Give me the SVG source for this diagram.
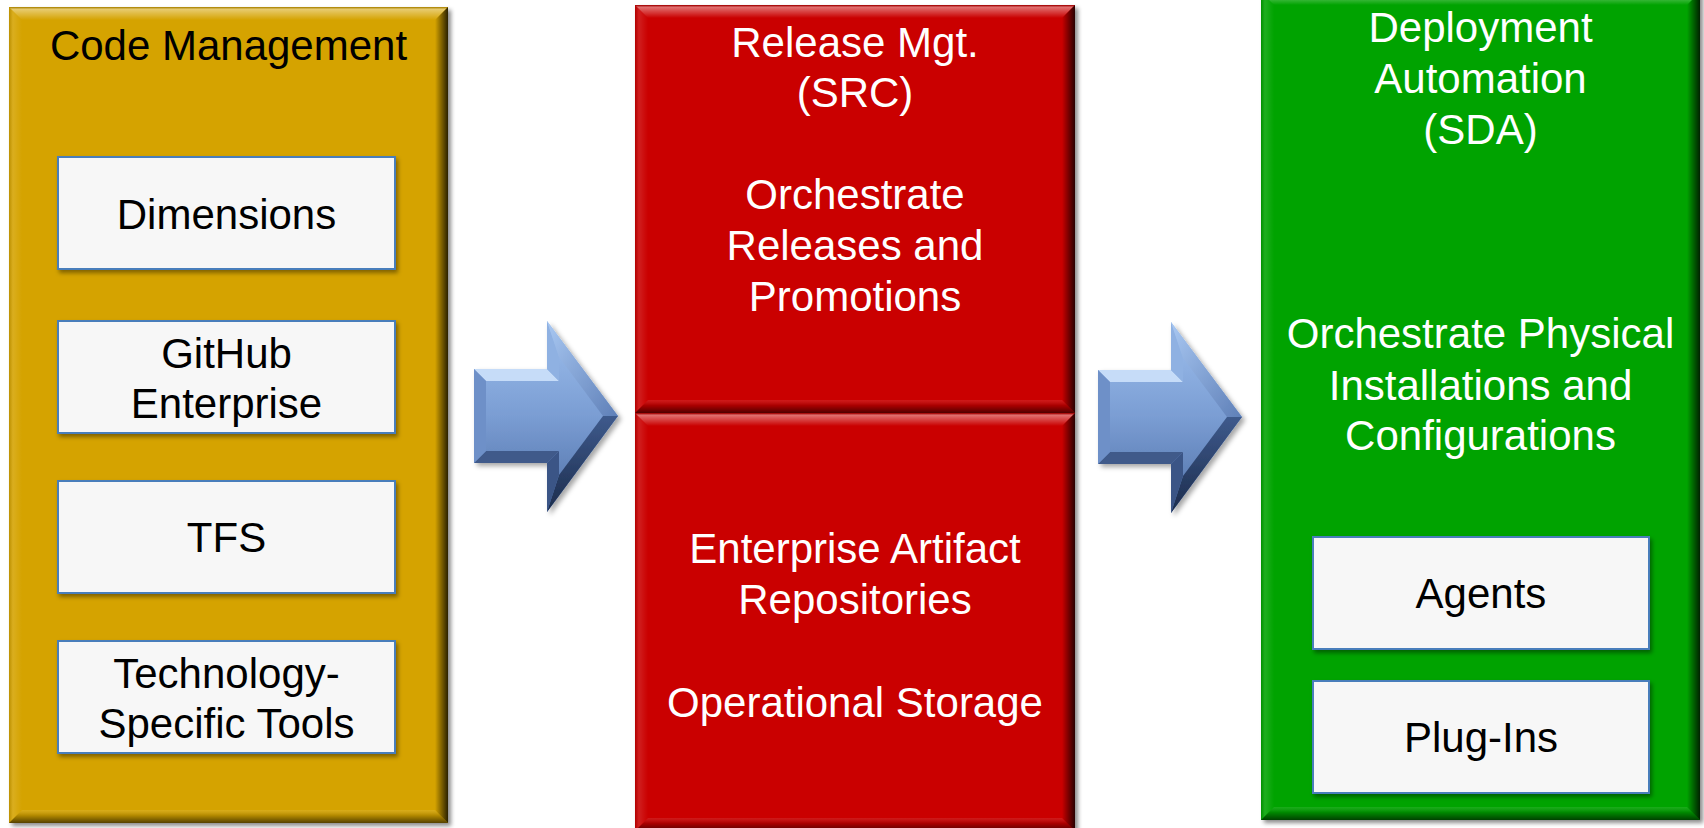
<svg xmlns="http://www.w3.org/2000/svg" width="1704" height="828" viewBox="0 0 1704 828">
<defs>
<style>
.t{font-family:"Liberation Sans",Arial,sans-serif;font-size:42px;text-anchor:middle}
.dk{fill:#000}
.wt{fill:#fff}
.inner{fill:#F7F7F7;stroke:#4A7EBB;stroke-width:2}
.gold{fill:#D5A305}
.red{fill:#CA0606}
.green{fill:#05A305}
.bt{fill:url(#gTop)}
.bl{fill:url(#gLeft)}
.br{fill:url(#gRight)}
.bb{fill:url(#gBottom)}
</style>
<linearGradient id="gTop" x1="0" y1="0" x2="0" y2="1">
<stop offset="0" stop-color="#000" stop-opacity="0.15"/>
<stop offset="0.15" stop-color="#fff" stop-opacity="0.45"/>
<stop offset="1" stop-color="#fff" stop-opacity="0"/>
</linearGradient>
<linearGradient id="gLeft" x1="0" y1="0" x2="1" y2="0">
<stop offset="0" stop-color="#000" stop-opacity="0.12"/>
<stop offset="0.3" stop-color="#fff" stop-opacity="0.12"/>
<stop offset="1" stop-color="#fff" stop-opacity="0"/>
</linearGradient>
<linearGradient id="gRight" x1="0" y1="0" x2="1" y2="0">
<stop offset="0" stop-color="#000" stop-opacity="0"/>
<stop offset="1" stop-color="#000" stop-opacity="0.8"/>
</linearGradient>
<linearGradient id="gBottom" x1="0" y1="0" x2="0" y2="1">
<stop offset="0" stop-color="#fff" stop-opacity="0.1"/>
<stop offset="0.4" stop-color="#000" stop-opacity="0.15"/>
<stop offset="1" stop-color="#000" stop-opacity="0.6"/>
</linearGradient>
<linearGradient id="gArrow" x1="0" y1="0" x2="0" y2="1">
<stop offset="0" stop-color="#9FC0EE"/>
<stop offset="0.5" stop-color="#7A9DD3"/>
<stop offset="1" stop-color="#4F6FA6"/>
</linearGradient>
<linearGradient id="gHeadUp" x1="0" y1="0" x2="1" y2="1">
<stop offset="0" stop-color="#A9C8F2"/>
<stop offset="1" stop-color="#5F80B8"/>
</linearGradient>
<linearGradient id="gHeadDn" x1="0" y1="0" x2="0" y2="1">
<stop offset="0" stop-color="#3E5A8C"/>
<stop offset="1" stop-color="#1C2C4C"/>
</linearGradient>
<filter id="sh" x="-5%" y="-5%" width="110%" height="110%">
<feDropShadow dx="3" dy="3" stdDeviation="2" flood-color="#000" flood-opacity="0.45"/>
</filter>
<filter id="shs" x="-10%" y="-10%" width="120%" height="130%">
<feDropShadow dx="2" dy="3" stdDeviation="2" flood-color="#000" flood-opacity="0.4"/>
</filter>
<filter id="sha" x="-10%" y="-10%" width="130%" height="130%">
<feDropShadow dx="3" dy="3" stdDeviation="2.5" flood-color="#000" flood-opacity="0.35"/>
</filter>
</defs>
<rect width="1704" height="828" fill="#fff"/>

<g id="code-management">
<g filter="url(#sh)">
<rect class="gold" x="9" y="7" width="439" height="816"/>
</g>
<polygon class="bt" points="9,7 448,7 435,20 22,20"/>
<polygon class="bl" points="9,7 22,20 22,810 9,823"/>
<polygon class="br" points="448,7 448,823 435,810 435,20"/>
<polygon class="bb" points="9,823 448,823 435,810 22,810"/>
<text class="t dk" x="228.5" y="60">Code Management</text>
</g>

<g id="dimensions">
<rect class="inner" x="58" y="157" width="337" height="112" filter="url(#shs)"/>
<text class="t dk" x="226.5" y="229">Dimensions</text>
</g>
<g id="github-enterprise">
<rect class="inner" x="58" y="321" width="337" height="112" filter="url(#shs)"/>
<text class="t dk" x="226.5" y="368">GitHub</text>
<text class="t dk" x="226.5" y="418">Enterprise</text>
</g>
<g id="tfs">
<rect class="inner" x="58" y="481" width="337" height="112" filter="url(#shs)"/>
<text class="t dk" x="226.5" y="552">TFS</text>
</g>
<g id="technology-specific-tools">
<rect class="inner" x="58" y="641" width="337" height="112" filter="url(#shs)"/>
<text class="t dk" x="226.5" y="688">Technology-</text>
<text class="t dk" x="226.5" y="738">Specific Tools</text>
</g>

<g id="release-mgt">
<g filter="url(#sh)">
<rect class="red" x="635" y="5" width="440" height="408"/>
</g>
<polygon class="bt" points="635,5 1075,5 1062,18 648,18"/>
<polygon class="bl" points="635,5 648,18 648,400 635,413"/>
<polygon class="br" points="1075,5 1075,413 1062,400 1062,18"/>
<polygon class="bb" points="635,413 1075,413 1062,400 648,400"/>
<text class="t wt" x="855" y="57">Release Mgt.</text>
<text class="t wt" x="855" y="107">(SRC)</text>
<text class="t wt" x="855" y="209">Orchestrate</text>
<text class="t wt" x="855" y="260">Releases and</text>
<text class="t wt" x="855" y="311">Promotions</text>
</g>

<g id="artifact-repositories">
<g filter="url(#sh)">
<rect class="red" x="635" y="413" width="440" height="418"/>
</g>
<polygon class="bt" points="635,413 1075,413 1062,426 648,426"/>
<polygon class="bl" points="635,413 648,426 648,818 635,831"/>
<polygon class="br" points="1075,413 1075,831 1062,818 1062,426"/>
<polygon class="bb" points="635,831 1075,831 1062,818 648,818"/>
<text class="t wt" x="855" y="563">Enterprise Artifact</text>
<text class="t wt" x="855" y="614">Repositories</text>
<text class="t wt" x="855" y="717">Operational Storage</text>
</g>

<g id="deployment-automation">
<g filter="url(#sh)">
<rect class="green" x="1261" y="-8" width="439" height="828"/>
</g>
<polygon class="bt" points="1261,-8 1700,-8 1687,5 1274,5"/>
<polygon class="bl" points="1261,-8 1274,5 1274,807 1261,820"/>
<polygon class="br" points="1700,-8 1700,820 1687,807 1687,5"/>
<polygon class="bb" points="1261,820 1700,820 1687,807 1274,807"/>
<text class="t wt" x="1480.5" y="42">Deployment</text>
<text class="t wt" x="1480.5" y="93">Automation</text>
<text class="t wt" x="1480.5" y="144">(SDA)</text>
<text class="t wt" x="1480.5" y="348">Orchestrate Physical</text>
<text class="t wt" x="1480.5" y="400">Installations and</text>
<text class="t wt" x="1480.5" y="450">Configurations</text>
</g>
<g id="agents">
<rect class="inner" x="1313" y="537" width="336" height="112" filter="url(#shs)"/>
<text class="t dk" x="1481" y="608">Agents</text>
</g>
<g id="plug-ins">
<rect class="inner" x="1313" y="681" width="336" height="112" filter="url(#shs)"/>
<text class="t dk" x="1481" y="752">Plug-Ins</text>
</g>

<g id="connectors">
<g id="arrow-1" filter="url(#sha)">
<polygon points="474,369 547,369 547,321 618,416 547,512 547,463 474,463" fill="url(#gArrow)"/>
<polygon points="474,369 547,369 559,381 486,381" fill="#C6DCF8"/>
<polygon points="547,369 547,321 559,357 559,381" fill="#8FB1E2"/>
<polygon points="547,321 618,416 603,416 559,357" fill="url(#gHeadUp)"/>
<polygon points="618,416 547,512 559,475 603,416" fill="url(#gHeadDn)"/>
<polygon points="547,512 547,463 559,451 559,475" fill="#3A5586"/>
<polygon points="547,463 474,463 486,451 559,451" fill="#3F5A8A"/>
<polygon points="474,463 474,369 486,381 486,451" fill="#6E90C8"/>
</g>
<g id="arrow-2" filter="url(#sha)" transform="translate(624,1)">
<polygon points="474,369 547,369 547,321 618,416 547,512 547,463 474,463" fill="url(#gArrow)"/>
<polygon points="474,369 547,369 559,381 486,381" fill="#C6DCF8"/>
<polygon points="547,369 547,321 559,357 559,381" fill="#8FB1E2"/>
<polygon points="547,321 618,416 603,416 559,357" fill="url(#gHeadUp)"/>
<polygon points="618,416 547,512 559,475 603,416" fill="url(#gHeadDn)"/>
<polygon points="547,512 547,463 559,451 559,475" fill="#3A5586"/>
<polygon points="547,463 474,463 486,451 559,451" fill="#3F5A8A"/>
<polygon points="474,463 474,369 486,381 486,451" fill="#6E90C8"/>
</g>
</g>
</svg>
